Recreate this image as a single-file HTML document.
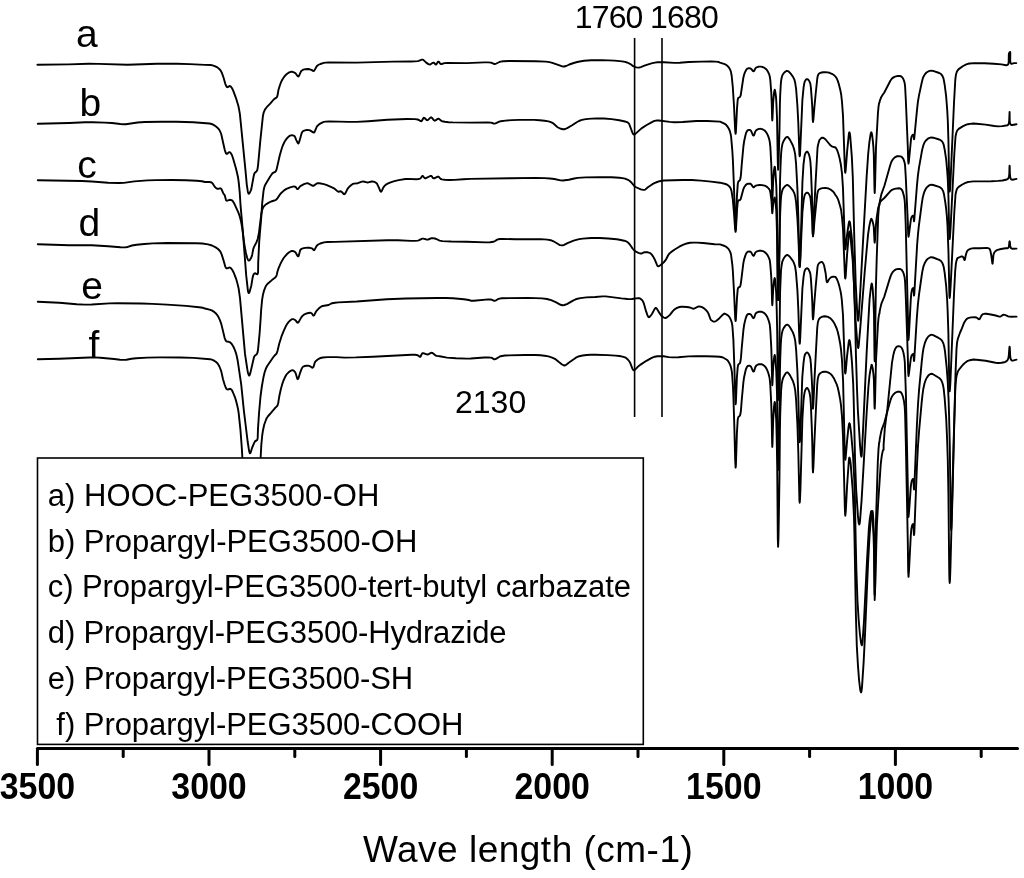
<!DOCTYPE html>
<html><head><meta charset="utf-8"><style>
html,body{margin:0;padding:0;background:#fff;}
svg{display:block;will-change:transform;}
text{font-family:"Liberation Sans",sans-serif;fill:#000;}
</style></head><body>
<svg width="1024" height="878" viewBox="0 0 1024 878">
<rect width="1024" height="878" fill="#fff"/>
<g fill="none" stroke="#000" stroke-width="1.9" stroke-linejoin="round" stroke-linecap="round">
<path d="M37.4 64.8 69.0 64.4 88.6 63.8 98.5 63.9 127.7 64.8 157.0 63.8 177.0 63.8 189.8 64.1 205.0 64.9 210.6 65.0 212.6 65.4 214.7 66.1 217.4 67.4 219.5 69.2 220.7 70.7 221.7 72.4 223.6 77.8 225.2 83.6 226.4 86.3 226.8 86.9 227.3 87.2 228.1 87.0 229.0 86.3 229.8 86.0 230.6 86.4 231.9 88.0 233.1 90.4 235.9 97.8 238.4 106.0 239.2 110.1 239.9 114.1 245.5 170.6 246.8 184.8 247.8 191.4 248.4 193.4 248.8 193.7 249.3 193.4 249.8 192.6 250.9 190.4 251.3 189.1 253.6 176.5 254.2 174.1 254.6 173.1 255.2 172.4 256.4 171.4 257.0 170.6 257.5 169.1 258.1 164.8 260.3 140.9 262.9 116.2 263.6 112.8 264.3 111.0 265.1 109.4 266.7 107.2 270.2 103.7 273.7 99.5 274.4 98.8 276.4 97.7 276.9 97.1 277.3 96.2 277.6 95.1 278.5 89.7 280.0 85.0 281.1 82.0 282.4 79.5 284.4 76.5 285.9 74.8 287.5 73.5 289.2 72.4 290.9 71.8 291.7 71.8 293.4 72.1 295.0 72.8 295.7 73.5 297.7 76.2 298.3 76.5 298.8 76.1 299.3 75.2 300.9 71.6 301.6 70.7 302.4 70.2 303.4 69.7 305.4 69.2 308.3 69.0 311.5 69.9 313.0 70.9 313.7 71.0 314.3 70.6 316.6 66.5 317.3 65.7 318.2 65.0 320.3 64.0 323.9 62.9 325.5 62.6 329.0 62.4 356.6 62.6 393.2 61.6 411.1 61.5 414.8 61.4 417.7 61.1 418.7 60.8 421.8 59.6 422.5 59.6 423.3 59.9 426.2 62.6 428.4 64.1 429.9 64.5 430.6 64.3 432.8 62.8 433.5 62.6 434.2 62.9 435.4 64.3 436.0 64.5 436.6 64.0 437.8 62.1 438.4 61.6 439.0 61.9 440.1 63.5 440.8 64.0 441.6 64.0 444.5 63.1 447.1 62.9 466.5 63.1 484.3 62.4 488.1 62.4 490.9 62.6 492.1 63.0 493.7 63.8 494.6 64.0 495.5 63.9 496.4 63.5 499.4 62.0 500.7 61.6 503.2 61.2 509.5 61.0 535.7 61.2 545.7 61.6 549.5 62.1 552.3 62.8 561.7 66.2 564.1 66.5 566.2 66.0 569.3 64.5 573.7 63.0 577.2 62.0 581.1 61.2 584.2 60.8 591.1 60.3 602.2 60.1 614.6 60.6 622.1 61.4 625.0 61.9 627.1 62.5 629.5 63.6 631.1 64.5 633.2 66.2 634.7 67.0 636.4 67.4 638.2 67.6 639.1 67.5 640.8 67.1 644.4 65.7 651.4 63.4 654.9 62.6 657.3 62.3 663.8 62.3 674.3 62.9 679.8 62.7 688.6 62.0 701.4 61.6 711.5 61.5 715.5 61.6 718.2 61.9 720.0 62.7 724.7 64.1 725.5 64.5 727.0 65.5 728.2 66.7 729.3 68.1 730.2 69.7 731.0 72.0 731.7 76.0 732.8 87.2 734.0 105.7 735.1 129.3 735.3 132.1 735.6 133.8 735.9 132.1 736.0 129.4 737.0 108.7 737.7 99.9 738.1 98.3 738.4 97.8 740.0 97.0 740.7 95.3 743.3 78.0 744.0 75.0 744.9 72.4 746.3 69.7 747.3 68.6 748.1 68.3 748.9 68.1 750.5 68.4 751.2 68.9 753.0 71.1 753.6 71.3 754.1 71.0 755.3 68.5 755.9 67.8 756.7 67.3 758.1 66.8 759.6 66.6 760.6 66.6 762.2 66.9 764.6 67.9 765.9 68.9 767.0 70.2 768.0 71.8 768.8 73.5 769.4 75.0 769.9 77.2 770.4 81.1 771.3 93.2 771.7 102.6 772.1 118.1 772.3 120.5 772.5 118.0 773.2 101.9 774.0 93.1 774.4 90.7 774.7 89.7 775.0 90.5 775.4 92.5 776.0 96.9 776.3 101.5 777.0 117.2 777.8 162.5 778.1 169.7 778.5 164.2 779.0 147.5 779.5 128.9 779.9 104.4 780.2 94.7 780.7 85.7 781.1 80.8 781.7 77.5 782.6 74.8 784.1 72.8 785.6 71.5 786.4 71.0 787.2 70.9 787.9 71.1 788.6 71.5 790.7 73.6 793.3 77.3 794.4 79.7 795.2 82.8 796.1 88.8 797.4 105.7 798.3 123.0 799.3 151.1 799.4 154.5 799.7 156.4 800.0 154.8 800.3 148.6 802.4 99.8 803.6 87.3 804.2 83.7 804.7 81.6 805.5 80.2 806.5 79.2 807.2 79.1 807.7 79.3 808.3 79.8 809.4 81.3 810.0 82.8 810.4 84.0 810.9 87.9 811.8 99.6 812.3 108.1 812.7 119.2 813.0 122.0 813.4 119.3 814.4 107.2 815.8 92.5 817.3 78.3 817.8 75.8 818.4 74.4 819.0 73.7 819.8 73.1 821.6 72.5 823.3 72.2 825.4 72.2 827.5 72.4 829.4 72.8 831.9 73.8 834.2 75.3 835.6 76.7 836.8 78.6 837.8 80.9 838.9 84.4 840.3 90.0 841.2 94.6 842.0 102.0 843.0 115.6 844.8 166.9 845.0 171.3 845.3 172.8 845.7 170.2 847.1 151.7 848.8 134.6 849.1 132.7 849.4 132.2 849.8 133.3 850.2 135.9 851.8 156.4 852.8 177.2 854.3 238.8 855.7 283.4 857.2 312.4 857.8 319.3 858.2 320.8 858.5 319.5 858.8 316.2 860.2 292.9 864.7 211.2 866.7 175.6 868.2 153.7 869.4 142.0 870.6 134.2 871.1 132.5 871.3 132.2 871.7 133.1 872.0 134.4 872.8 140.5 873.4 147.2 873.8 154.5 874.5 190.0 874.7 193.0 875.0 187.2 876.0 147.3 877.9 113.7 878.5 106.9 879.1 103.2 879.3 102.7 879.5 102.7 879.7 101.2 881.2 97.2 882.2 95.5 884.3 92.5 890.5 80.5 892.1 78.4 894.4 76.9 896.8 76.1 898.3 75.9 899.8 76.0 900.7 76.2 901.5 76.6 902.7 77.8 903.8 80.1 904.6 82.7 905.1 86.5 905.8 99.5 907.8 147.2 908.2 161.0 908.5 163.6 908.9 161.1 911.1 138.5 911.7 136.3 912.7 134.9 913.2 134.7 913.6 135.8 913.9 138.9 914.0 139.4 914.2 139.0 916.9 110.8 917.9 101.9 919.0 95.4 921.7 82.7 922.5 79.5 923.1 77.5 924.8 74.4 926.5 72.5 928.7 71.2 931.2 70.6 933.1 70.9 939.2 73.0 940.6 73.8 941.3 74.4 942.4 75.9 943.1 77.4 943.7 79.3 944.7 85.0 946.1 95.9 947.2 109.8 947.8 120.8 948.4 139.4 949.2 183.5 949.4 189.2 949.7 191.6 950.0 190.0 950.5 181.8 954.0 102.7 955.2 81.5 955.5 77.8 956.0 74.6 956.7 72.2 957.3 70.9 958.7 69.1 963.1 66.0 966.3 64.4 968.0 63.8 969.8 63.5 974.4 63.1 984.4 63.2 993.7 63.7 1001.5 64.4 1006.1 65.2 1007.0 65.1 1007.8 64.7 1008.5 63.5 1008.7 61.5 1008.8 54.8 1009.0 53.4 1009.6 52.3 1010.1 51.9 1010.3 52.8 1010.2 60.1 1010.4 62.4 1010.9 63.6 1011.6 63.8 1014.0 63.1 1016.3 63.1"/><path d="M37.8 123.8 69.0 123.0 85.3 122.3 92.5 122.3 104.7 122.6 112.0 123.0 120.3 124.0 123.8 124.3 125.8 124.2 137.6 122.5 144.7 122.0 161.5 121.7 176.7 121.8 193.2 122.3 209.6 123.5 211.6 124.0 212.6 124.4 214.7 125.6 216.6 127.0 218.1 128.4 219.3 129.9 220.2 131.6 221.2 134.0 224.6 149.3 225.2 151.4 225.8 153.0 226.5 153.8 227.2 153.7 228.7 152.4 229.4 152.1 230.1 152.4 230.8 153.1 232.0 155.3 233.1 158.5 235.9 168.2 237.0 172.7 238.0 177.2 238.7 182.1 239.7 192.1 240.5 204.8 242.7 229.6 246.2 275.4 247.9 290.6 248.3 292.4 248.8 293.1 249.2 292.8 249.6 291.8 251.3 285.7 252.7 277.2 253.2 275.4 253.7 274.2 254.5 273.5 255.4 273.3 256.9 274.1 257.5 274.2 257.9 273.4 258.1 271.9 258.2 262.6 259.2 241.9 259.8 234.4 261.2 218.0 262.2 203.1 263.5 191.1 264.1 188.0 264.9 185.5 266.0 183.5 270.2 176.5 271.9 174.0 272.7 173.1 273.5 172.6 275.0 172.0 275.7 171.4 276.2 170.5 276.6 169.4 279.8 155.2 281.6 149.0 282.8 145.5 284.3 142.3 285.8 139.8 287.5 137.7 289.2 136.1 290.1 135.6 290.9 135.4 292.7 135.3 294.2 135.9 294.8 136.5 295.2 137.3 296.3 140.1 297.8 143.0 298.3 143.4 298.7 143.1 299.4 141.2 301.7 133.0 302.2 132.1 302.8 131.3 303.6 130.8 305.8 130.1 307.0 130.0 309.1 130.1 310.0 130.4 313.2 132.4 314.0 132.6 314.5 132.1 316.6 127.1 317.3 126.0 319.2 124.3 320.2 123.6 322.6 122.3 323.9 121.9 325.5 121.6 329.0 121.4 348.7 121.9 356.6 121.9 368.4 121.2 387.4 119.8 407.1 119.0 415.0 119.1 417.7 119.5 418.9 120.0 420.6 121.1 421.3 121.2 421.9 120.8 423.3 118.2 423.8 117.8 424.5 118.0 426.7 120.0 427.4 120.2 428.1 119.9 430.4 117.6 431.1 117.3 431.8 117.7 434.0 120.3 434.7 120.7 435.4 120.5 437.7 118.9 438.4 118.7 439.1 118.9 441.1 120.7 442.1 121.2 444.9 121.8 448.6 122.2 452.9 122.4 470.8 122.6 488.1 122.4 490.9 122.6 493.7 123.5 494.6 123.6 495.5 123.4 499.3 121.6 500.7 121.2 505.5 120.6 512.0 120.1 519.5 119.9 534.1 119.9 539.7 120.2 544.5 120.7 548.5 121.4 550.2 121.9 551.9 122.6 553.1 123.3 557.0 126.8 558.0 127.5 561.0 128.8 563.1 129.2 564.1 129.2 565.2 129.0 567.2 128.1 572.1 125.3 577.1 122.0 579.0 121.0 581.1 120.2 584.4 119.4 588.1 118.9 592.0 118.6 596.1 118.4 604.0 118.5 611.7 119.1 619.3 120.2 625.0 121.5 627.1 122.2 627.9 122.6 628.6 123.2 629.2 124.0 632.4 132.6 633.3 134.2 633.8 134.6 634.4 134.5 635.1 134.1 641.5 128.4 646.7 125.0 651.5 122.3 653.8 121.2 655.8 120.6 656.9 120.4 658.9 120.5 669.7 121.9 674.3 122.3 682.5 122.0 696.4 121.0 700.6 120.9 707.3 121.0 720.0 121.6 723.8 123.3 725.1 124.1 726.3 125.1 727.3 126.3 728.8 128.7 729.8 131.0 730.6 133.9 731.1 136.6 732.3 150.5 732.9 160.2 734.0 188.2 735.1 222.4 735.3 227.3 735.6 229.6 735.9 227.6 736.0 224.0 736.9 196.9 737.7 184.9 737.9 183.2 738.4 181.5 740.0 180.1 740.5 178.1 741.0 174.3 741.7 164.9 743.4 146.5 744.1 141.5 745.4 135.5 746.0 133.2 746.8 131.5 747.3 130.6 748.1 130.1 748.9 129.9 749.7 129.9 750.5 130.3 751.2 131.2 752.7 134.7 753.0 135.2 753.6 135.6 754.1 135.1 754.3 134.6 755.3 131.5 756.3 130.2 757.6 129.4 759.1 128.9 760.6 128.8 762.2 129.2 763.8 130.0 764.6 130.5 765.9 131.9 767.0 133.6 768.0 135.6 768.8 137.9 769.4 140.0 769.9 142.8 770.4 147.7 771.3 164.9 771.7 176.7 772.1 196.5 772.3 200.4 772.5 197.7 773.2 180.0 774.0 170.3 774.4 167.7 774.7 166.6 775.0 167.4 775.4 171.3 776.3 185.7 777.0 212.0 777.8 288.0 778.1 300.0 778.3 296.6 778.6 286.6 779.4 243.5 779.9 193.2 780.1 178.3 780.7 161.9 781.1 154.0 781.6 148.6 782.4 144.0 783.5 141.2 785.2 138.3 786.4 137.1 787.2 136.9 787.9 137.2 788.9 138.3 790.0 139.9 792.9 145.5 794.2 149.6 795.2 154.6 796.1 164.2 797.4 188.9 798.3 216.1 799.3 259.2 799.4 264.4 799.7 267.0 800.0 264.0 800.4 254.5 802.4 182.5 803.5 164.4 804.5 156.7 804.9 154.6 805.8 152.6 806.5 151.8 807.2 151.6 807.7 152.0 808.6 153.6 809.4 156.0 809.9 158.4 810.4 161.7 810.9 169.0 811.8 191.5 812.3 207.9 812.7 231.7 813.0 236.2 813.4 231.0 814.3 208.0 815.6 182.4 817.5 148.3 817.9 145.4 819.1 140.9 819.5 140.0 820.8 138.5 821.5 138.0 822.3 137.7 823.2 137.8 824.1 138.3 825.6 139.5 829.7 144.5 831.0 145.8 832.4 146.7 835.6 147.5 836.0 148.1 837.2 150.3 838.4 153.7 839.6 158.3 840.9 164.8 842.0 173.4 843.0 188.6 844.8 242.3 845.1 248.7 845.3 249.4 845.6 248.3 847.1 234.6 848.5 224.8 849.1 221.6 849.4 221.3 849.7 221.6 850.2 223.8 851.8 237.8 853.0 256.0 854.2 290.3 855.5 319.6 857.2 341.6 857.8 346.7 858.2 348.0 858.5 347.1 858.8 344.9 860.2 328.9 864.6 273.2 866.7 249.3 868.1 234.1 869.3 226.1 870.4 221.0 871.1 219.0 871.3 218.8 871.6 219.0 872.4 220.8 873.4 224.7 873.8 227.6 874.5 241.4 874.7 242.7 875.0 239.9 876.0 224.0 876.7 217.7 878.2 207.6 878.8 206.0 879.3 205.0 879.5 205.0 879.6 203.1 880.0 200.5 881.4 194.1 884.5 185.5 890.2 165.3 891.4 161.8 892.8 159.4 894.8 157.4 896.8 156.3 898.8 156.1 900.7 156.4 901.5 156.8 902.1 157.3 903.2 158.6 904.1 160.9 904.7 162.9 905.1 165.9 905.8 177.8 907.8 221.6 908.2 234.3 908.5 236.7 909.0 234.2 910.8 220.1 911.4 217.5 912.2 216.2 912.7 215.7 913.2 215.6 913.6 216.9 913.9 220.8 914.0 221.3 914.2 220.8 916.9 186.2 917.9 175.6 919.0 167.7 921.7 152.3 922.5 148.4 923.4 145.2 924.5 142.5 925.9 140.5 927.9 138.7 929.6 137.9 930.4 137.6 931.2 137.5 933.1 137.7 939.2 139.5 940.6 140.2 941.3 140.7 942.4 141.9 943.1 143.2 943.7 144.8 944.8 150.3 946.2 159.7 947.2 170.9 947.8 179.6 948.4 195.2 949.2 232.2 949.4 236.9 949.7 239.0 950.0 236.8 950.6 227.6 954.3 154.0 955.5 136.7 956.2 133.2 957.0 131.0 957.5 130.1 958.7 128.9 963.1 126.1 966.3 124.7 968.0 124.2 969.8 123.9 973.4 123.5 976.4 123.7 985.6 124.6 994.3 126.0 998.3 126.4 1002.3 126.1 1007.6 125.2 1008.3 124.6 1008.9 123.0 1009.2 120.5 1009.6 111.9 1009.7 120.6 1010.0 123.1 1010.7 124.6 1011.4 125.0 1012.3 125.0 1016.5 124.3"/><path d="M37.8 180.2 82.2 181.0 91.9 181.5 108.1 182.7 119.0 183.0 123.8 182.9 134.3 181.4 147.5 180.4 156.0 180.1 172.2 180.0 186.0 180.3 196.8 180.8 201.9 181.3 205.0 182.0 209.5 182.0 210.7 182.2 211.6 182.5 212.3 183.1 212.9 183.8 214.4 186.4 216.1 188.2 217.4 188.8 218.2 188.8 219.9 188.3 220.7 188.4 221.2 188.9 221.7 189.6 223.2 193.2 224.8 195.4 225.8 199.3 226.1 200.1 226.5 200.6 227.2 200.7 229.8 199.8 231.5 200.1 232.3 200.6 233.0 201.4 234.4 203.8 238.2 212.1 239.2 214.8 240.2 218.1 241.1 221.8 242.2 227.9 244.2 243.3 245.8 252.5 247.1 257.6 247.9 259.6 248.3 260.3 248.8 260.6 249.4 260.4 250.1 259.6 251.3 257.6 252.2 254.7 253.2 249.3 253.7 247.7 254.8 245.4 256.5 242.2 257.7 239.0 259.0 232.6 261.3 213.8 262.3 209.6 263.0 207.9 263.9 206.3 265.4 204.8 268.8 202.6 271.1 201.5 274.4 200.5 276.0 199.8 276.9 199.0 277.7 197.9 280.1 194.3 281.0 193.2 284.1 190.4 286.4 188.9 290.2 187.3 292.8 186.6 294.0 186.5 295.0 186.6 295.8 187.1 296.9 188.8 297.5 189.1 298.1 188.8 300.0 186.5 300.8 185.8 304.0 184.1 306.3 183.4 307.4 183.3 308.4 183.5 311.4 185.2 312.3 185.7 313.2 185.8 314.1 185.5 316.4 183.7 317.3 183.3 319.4 183.2 323.9 184.1 326.9 185.1 333.1 187.9 334.6 188.8 337.6 191.4 338.3 191.7 340.8 191.3 341.5 191.7 343.7 194.0 344.4 194.2 345.0 193.8 345.6 192.9 347.4 189.1 348.1 188.1 349.6 186.4 351.3 185.0 353.0 183.9 353.9 183.6 357.8 183.2 361.9 181.6 363.5 181.5 366.8 182.4 367.6 182.5 368.4 182.4 371.7 181.5 372.5 181.5 374.3 181.9 375.1 182.2 376.6 183.2 377.1 183.8 379.0 187.8 380.2 190.8 380.6 191.4 381.0 191.7 381.5 191.4 381.9 190.7 383.4 187.3 384.6 185.8 386.0 184.6 387.6 183.7 390.6 182.3 394.4 181.1 398.7 180.1 405.4 179.0 407.8 178.9 416.1 179.2 418.4 179.0 420.1 178.6 420.9 177.9 422.0 176.2 422.5 175.9 423.1 176.2 424.3 177.8 425.0 178.3 425.9 178.2 430.2 176.0 431.1 175.9 431.8 176.3 432.8 177.9 433.5 178.3 434.2 178.3 437.7 176.6 438.4 176.6 439.0 177.0 440.1 178.4 440.8 179.0 441.9 179.4 444.5 179.8 449.4 180.0 454.6 179.9 463.4 179.2 470.3 178.9 511.1 178.2 535.9 177.9 544.6 178.1 549.9 178.5 554.4 179.0 560.5 180.4 562.9 180.5 568.8 179.7 574.3 178.5 577.6 177.9 585.5 177.4 599.6 177.1 611.7 177.3 619.2 177.7 622.4 178.1 625.0 178.6 628.0 179.8 629.5 180.8 631.1 182.2 634.0 185.7 635.5 187.0 640.8 189.3 643.3 189.9 644.4 189.9 645.2 189.6 647.9 187.2 652.4 184.2 654.9 182.9 657.2 182.0 659.5 181.2 663.8 180.5 682.9 180.0 691.8 180.0 701.0 180.6 711.1 181.6 720.0 182.7 725.5 184.0 727.0 184.6 728.8 185.9 729.8 187.0 730.6 188.3 731.5 190.9 732.8 199.3 734.0 213.1 735.1 228.6 735.4 231.2 735.6 231.9 735.9 230.4 736.0 228.1 737.0 210.0 737.7 202.3 738.1 201.0 738.4 200.5 740.0 200.0 740.7 199.1 743.2 189.7 744.2 187.2 745.4 185.5 746.3 184.5 747.3 183.9 748.1 183.7 750.5 183.8 751.2 184.4 753.0 187.0 753.6 187.3 754.1 187.1 755.3 185.9 756.7 185.4 759.6 185.0 762.2 185.1 764.6 185.7 765.9 186.2 767.0 186.9 768.8 188.6 769.6 189.8 769.9 190.5 770.3 192.2 771.3 199.0 771.7 203.9 772.1 212.1 772.3 213.3 772.5 212.0 773.2 203.8 774.0 199.2 774.4 198.0 774.7 197.5 775.2 199.7 776.2 209.5 776.7 222.8 777.2 243.3 777.8 294.2 778.1 300.0 778.5 293.6 779.0 274.2 779.5 252.5 779.9 223.8 780.2 212.7 780.7 202.2 781.1 196.5 781.7 192.7 782.6 189.6 783.8 187.6 785.6 185.7 786.4 185.2 787.2 185.0 787.9 185.2 788.6 185.6 790.0 186.9 792.9 190.4 794.4 193.4 795.2 196.4 796.1 202.2 797.4 218.3 798.3 234.9 799.3 261.9 799.4 265.2 799.7 267.0 800.0 265.5 800.3 259.5 802.4 212.5 803.6 200.5 804.2 197.1 804.7 195.0 805.5 193.6 806.5 192.7 807.2 192.6 807.7 192.8 808.3 193.3 809.4 194.8 810.0 196.3 810.4 197.6 810.9 201.6 811.8 213.4 812.3 222.1 812.7 233.4 813.0 236.2 813.4 233.6 814.4 221.9 815.8 207.8 817.3 194.0 817.8 191.6 818.4 190.2 819.0 189.5 820.6 188.7 822.4 188.1 825.4 187.9 826.9 188.1 828.5 188.5 831.1 189.9 832.7 191.2 834.2 192.9 835.6 195.2 836.8 196.8 837.8 198.8 838.9 201.9 840.3 206.7 841.1 210.0 842.0 217.1 843.0 228.9 844.8 273.3 845.0 277.3 845.3 278.6 845.6 277.1 845.8 274.8 847.1 254.1 848.8 234.4 849.1 232.2 849.4 231.6 849.9 232.9 850.5 237.0 852.7 260.5 854.0 285.3 854.7 303.7 856.0 357.3 857.1 391.4 857.9 410.9 860.1 446.1 860.9 454.9 861.4 456.7 861.7 455.5 861.9 452.5 863.0 431.1 866.6 353.6 869.0 309.2 869.6 299.1 870.6 290.0 871.4 284.4 871.8 283.5 872.0 284.0 872.7 289.2 873.5 301.1 874.0 315.0 874.5 357.3 874.7 361.2 875.0 350.0 875.8 291.1 876.7 258.7 878.2 216.0 879.1 204.8 879.3 204.0 879.5 204.0 879.6 203.4 879.8 202.8 881.2 200.8 884.3 198.0 890.2 191.3 892.1 189.8 894.4 188.9 898.8 188.2 900.2 188.5 901.1 189.0 901.8 189.8 902.7 191.5 904.0 196.2 904.6 199.9 904.9 203.5 905.7 223.9 907.8 311.6 908.2 335.6 908.5 340.0 908.9 335.5 910.8 299.1 911.3 293.4 911.9 290.1 912.4 288.8 912.7 288.3 913.2 288.0 913.6 289.8 914.0 295.6 914.3 294.0 917.1 245.2 917.9 235.1 918.7 227.2 921.7 204.2 922.6 198.3 923.4 194.9 924.3 192.0 925.3 189.7 926.2 188.2 927.2 187.0 928.7 185.7 930.4 184.9 931.2 184.7 933.1 185.0 938.4 186.7 940.6 187.7 941.9 188.9 943.1 191.1 944.0 194.3 945.3 202.3 946.1 208.4 946.9 216.6 947.5 225.6 948.5 253.2 949.3 291.4 949.4 295.8 949.7 298.0 950.0 295.7 950.6 286.5 954.3 212.2 955.5 194.8 956.2 191.2 957.0 188.9 957.5 188.1 958.7 186.9 962.3 184.5 965.5 182.9 967.1 182.3 968.9 181.9 973.4 181.4 991.3 181.2 998.1 180.9 1002.5 180.5 1006.8 179.5 1007.6 179.1 1008.3 178.4 1008.9 176.7 1009.3 174.1 1009.5 166.4 1009.6 165.6 1009.7 166.5 1009.9 175.0 1010.3 177.7 1011.1 179.3 1011.8 179.6 1012.6 179.7 1016.5 178.9"/><path d="M37.8 244.2 69.0 245.2 85.4 245.2 91.9 245.3 108.1 246.2 120.4 247.3 123.2 247.4 125.7 247.3 127.1 247.1 132.0 245.5 136.6 244.7 144.3 244.0 152.8 243.4 166.8 243.0 196.4 243.3 202.4 243.5 208.1 244.4 212.0 245.5 215.7 247.4 218.0 249.0 219.0 250.0 219.9 251.0 220.7 252.2 221.8 254.9 223.7 260.9 225.2 266.3 225.8 267.6 226.5 268.4 227.3 268.4 229.0 267.6 229.8 267.5 230.5 267.8 231.1 268.4 232.3 270.0 233.5 272.2 234.6 274.8 236.1 278.8 237.3 282.9 238.7 288.8 240.0 298.1 245.0 353.9 247.3 369.2 247.9 372.5 248.6 374.7 249.2 375.6 249.6 375.2 250.5 372.4 253.9 357.5 254.5 356.2 255.1 355.4 256.5 354.4 257.1 353.6 257.6 352.1 258.0 350.1 259.6 333.3 260.6 319.1 261.1 310.5 262.1 299.9 262.8 295.6 264.1 290.3 265.4 287.1 266.1 285.7 266.8 284.7 268.5 283.0 271.9 280.1 274.6 278.1 276.0 276.6 276.8 274.8 277.4 271.8 278.6 268.1 281.0 262.6 283.2 258.7 285.0 256.3 286.8 254.3 288.8 252.5 290.8 251.3 291.7 251.0 292.6 251.0 293.4 251.1 295.0 251.9 295.6 252.5 297.3 255.4 297.8 256.1 298.3 256.3 298.7 255.8 300.1 250.4 300.8 249.4 301.7 248.8 302.7 248.4 305.1 247.9 307.4 247.7 309.2 247.8 311.0 248.1 312.4 248.6 313.5 249.9 314.0 250.2 314.5 249.9 316.6 246.0 317.3 245.2 318.2 244.5 320.3 243.5 323.9 242.4 327.2 242.0 335.0 241.9 387.4 240.2 397.8 240.2 411.1 240.9 414.8 240.9 417.7 240.6 418.7 240.3 421.7 238.8 422.5 238.6 423.3 238.6 426.6 239.5 427.4 239.6 428.2 239.5 431.5 238.2 432.3 238.1 434.9 238.5 437.2 239.3 438.6 240.2 439.6 240.6 442.4 241.1 451.2 241.5 466.5 241.8 486.0 242.4 490.1 242.3 493.3 241.8 495.1 241.0 497.2 239.6 498.2 239.3 500.4 239.0 502.9 238.9 515.3 239.3 540.8 239.1 547.4 239.6 550.7 240.2 553.5 241.3 558.5 244.3 560.1 245.1 561.7 245.4 562.9 245.3 564.1 244.9 567.5 243.1 573.6 240.7 577.2 239.6 579.3 239.1 582.8 238.6 591.0 238.0 599.8 238.0 608.1 238.5 616.8 239.3 620.8 240.0 624.2 240.7 626.8 241.7 627.8 242.3 629.1 243.7 630.9 246.0 632.5 248.5 633.8 250.0 636.4 251.9 639.1 253.1 640.9 253.5 641.7 253.5 643.4 252.6 644.4 252.2 645.2 252.1 647.9 252.3 649.6 252.8 650.3 253.2 651.6 254.4 653.2 256.6 654.6 259.2 657.1 265.1 657.5 265.9 658.1 266.3 658.8 266.3 660.4 265.3 663.8 262.3 666.1 259.3 668.3 255.0 669.0 254.0 671.0 252.1 674.7 249.5 679.3 246.7 682.9 244.9 684.8 244.1 686.6 243.5 690.0 242.8 693.4 242.6 697.1 242.6 703.0 243.0 714.7 244.3 720.0 244.4 724.7 246.0 726.3 246.9 727.6 248.0 728.8 249.4 730.0 251.5 730.6 253.1 731.1 255.1 732.4 265.4 732.9 271.8 734.0 291.7 735.1 315.7 735.3 319.3 735.6 321.1 735.9 319.5 736.0 317.0 737.0 297.7 737.7 289.6 738.1 288.1 738.4 287.6 740.0 286.6 740.5 285.2 741.0 282.3 743.3 263.5 744.0 259.9 745.4 255.4 746.0 253.9 746.8 252.6 747.3 252.0 748.1 251.6 748.9 251.5 750.5 251.8 751.2 252.4 752.7 255.1 753.0 255.5 753.6 255.8 754.1 255.4 755.3 252.7 755.9 252.0 757.1 251.3 758.6 250.9 759.6 250.7 761.4 250.8 763.0 251.2 764.6 252.0 766.5 253.7 767.5 255.1 768.4 256.8 769.2 258.6 769.8 260.6 770.3 264.6 771.3 277.6 771.7 287.1 772.1 302.8 772.3 305.2 772.5 303.0 773.2 288.9 774.0 281.1 774.4 279.0 774.7 278.1 775.0 279.3 775.3 281.5 776.2 293.0 776.7 308.9 777.2 332.5 777.8 393.1 778.1 400.0 778.3 397.0 778.6 388.1 779.4 349.8 779.9 305.1 780.1 291.8 781.0 270.4 781.6 265.4 782.4 261.3 783.5 258.8 785.2 256.3 786.4 255.2 787.2 255.0 787.9 255.2 788.6 255.6 790.0 257.0 792.9 260.9 794.0 263.2 795.1 266.5 796.0 272.6 797.4 290.1 798.3 309.0 799.3 338.2 799.4 341.8 799.7 343.7 800.0 342.1 800.3 336.1 802.4 288.5 803.5 277.3 804.3 272.1 804.9 270.2 805.5 269.3 806.5 268.4 807.2 268.3 807.7 268.6 808.3 269.1 809.1 270.4 809.8 272.0 810.4 274.1 810.9 278.8 811.8 292.6 812.3 302.8 812.7 316.4 813.0 319.3 813.4 316.6 814.4 302.1 815.6 287.4 817.5 267.1 817.9 265.1 818.7 263.6 819.8 262.6 821.1 262.0 821.6 261.9 822.2 262.2 823.3 263.5 824.1 265.5 825.6 273.0 826.4 279.9 826.7 281.5 827.1 282.2 827.5 281.9 828.9 279.5 830.2 278.0 830.9 277.4 831.7 277.0 833.5 276.6 835.6 277.0 836.8 278.9 838.1 282.0 839.2 285.6 840.5 291.1 841.2 295.0 841.8 299.8 843.0 315.1 844.8 367.6 845.0 372.0 845.3 373.5 845.5 372.9 845.8 370.6 847.0 356.7 848.7 342.3 849.0 340.9 849.4 340.0 849.8 341.0 850.1 342.7 850.8 348.7 852.0 362.9 853.2 384.0 853.7 400.4 855.1 461.5 856.1 488.9 857.9 515.4 858.6 522.2 858.9 523.7 859.3 524.5 859.7 523.4 860.1 519.8 861.6 500.1 866.7 412.0 868.5 385.6 869.5 375.6 870.4 370.1 871.5 364.9 871.7 364.7 871.9 365.0 872.7 368.4 873.5 374.6 873.9 380.2 874.5 406.7 874.7 408.6 875.0 402.5 876.0 360.5 877.9 325.2 878.5 318.1 879.1 314.2 879.3 313.7 879.5 313.7 879.6 312.0 880.0 309.6 881.2 304.4 881.9 302.3 884.3 296.6 889.6 279.1 890.8 275.6 891.8 273.5 892.5 272.4 893.6 271.1 894.4 270.4 896.0 269.4 896.8 269.1 898.3 268.9 899.8 269.0 900.7 269.2 901.5 269.7 902.1 270.4 902.9 271.7 903.8 274.0 904.6 277.2 905.1 281.8 905.8 297.1 907.8 356.0 908.2 372.5 908.5 376.0 909.0 373.4 910.8 358.7 911.4 356.0 912.2 354.6 912.7 354.1 913.2 354.0 913.6 355.7 913.9 360.4 914.0 361.1 914.2 360.4 916.8 318.2 917.9 304.5 919.0 294.7 921.7 275.5 922.5 270.7 923.4 266.7 924.8 262.9 926.2 260.5 927.9 258.7 929.6 257.7 930.4 257.4 931.2 257.2 933.1 257.5 939.2 259.9 940.6 260.7 941.3 261.4 942.4 263.1 943.1 264.8 943.7 266.9 944.7 273.2 946.1 285.3 947.2 300.7 947.7 312.5 948.4 333.5 949.2 382.4 949.4 388.8 949.7 391.4 950.0 388.7 950.5 380.2 954.0 293.8 955.2 270.8 955.9 263.5 956.4 261.1 957.2 258.6 957.5 258.1 958.1 257.8 961.1 256.5 961.9 256.4 962.7 256.7 963.3 257.2 964.3 259.7 964.6 260.1 965.0 259.1 965.8 255.0 966.9 251.5 967.9 250.2 969.3 249.3 970.9 248.6 973.8 248.1 980.0 248.2 986.7 247.9 988.1 248.1 989.2 248.6 989.8 249.2 990.4 250.8 991.3 255.4 992.1 261.7 992.3 263.2 992.5 263.7 992.7 263.1 993.4 255.3 993.8 253.7 994.6 252.1 995.8 250.9 997.7 249.8 1001.0 249.0 1005.6 248.2 1007.6 248.2 1008.3 247.9 1008.7 247.1 1009.0 245.8 1009.4 241.7 1009.6 241.3 1009.8 241.7 1010.2 245.9 1010.6 247.3 1011.1 248.2 1011.8 248.6 1012.6 248.7 1016.5 248.6"/><path d="M37.8 301.7 59.3 302.7 76.7 304.2 84.7 304.6 91.8 304.5 109.4 303.4 117.0 303.2 141.3 303.5 152.3 303.9 167.0 304.6 186.0 305.9 199.1 307.2 202.9 307.8 205.0 308.5 209.5 309.6 211.8 310.4 213.7 311.6 215.4 313.0 217.0 314.7 218.5 317.1 219.8 319.8 221.4 324.4 224.6 337.8 225.6 340.3 226.2 341.2 227.0 341.6 228.8 341.8 229.7 342.1 231.0 343.2 232.2 344.7 233.3 346.5 234.6 349.3 235.8 352.6 236.8 356.2 237.8 361.3 241.2 384.4 243.9 410.9 247.7 442.0 249.1 450.8 249.7 453.0 250.0 453.3 250.4 452.9 250.8 452.0 252.2 447.5 254.4 442.4 255.3 441.0 256.6 440.5 257.1 440.1 257.5 439.0 257.7 437.4 258.0 428.6 259.1 412.3 260.5 396.5 261.9 386.0 263.4 377.6 264.5 372.8 265.9 368.6 267.2 366.0 273.4 357.0 274.8 355.3 276.0 354.3 276.5 353.6 277.5 351.0 279.2 343.8 281.4 336.7 283.5 331.4 286.1 325.7 287.0 324.1 288.7 321.9 290.2 320.4 291.7 319.3 292.4 319.1 293.3 319.1 294.2 319.5 295.1 320.0 295.8 320.7 297.1 322.4 297.7 322.7 298.3 322.4 298.9 321.6 301.3 317.4 302.5 315.9 303.9 314.7 307.4 313.2 310.0 312.8 311.0 312.9 311.8 313.5 313.0 315.3 313.6 315.6 314.1 315.3 314.5 314.7 315.8 312.0 316.3 311.2 318.7 308.6 320.6 307.0 321.6 306.4 322.7 306.0 328.6 305.0 331.3 303.5 332.2 303.2 334.9 302.7 338.5 302.4 356.6 301.5 387.0 299.3 405.9 298.5 436.9 298.0 446.2 298.0 452.9 298.3 463.8 299.3 468.9 300.0 471.4 300.8 473.8 300.8 488.3 299.4 490.9 299.5 492.0 299.8 493.7 300.7 494.6 300.8 496.1 300.3 498.5 298.9 499.4 298.6 501.8 298.2 527.7 298.0 535.3 298.1 542.0 298.4 547.0 299.0 551.1 300.1 555.7 302.1 560.6 304.8 562.6 305.2 564.3 305.0 566.9 304.1 573.0 300.6 575.3 299.5 577.6 298.7 580.4 298.1 586.4 297.4 595.2 297.0 602.5 296.4 605.7 296.4 621.4 298.4 627.6 299.0 630.3 299.1 632.0 299.0 637.9 298.1 639.1 298.2 640.0 298.5 640.7 298.9 642.0 300.0 642.6 300.8 643.3 302.1 644.0 303.9 646.1 311.4 647.4 315.1 648.3 316.9 648.8 317.2 649.4 317.1 650.7 315.7 652.1 313.8 654.4 309.4 655.1 308.3 655.8 307.9 656.3 308.1 656.9 308.8 658.4 311.4 661.3 315.7 663.7 317.5 664.6 317.9 665.5 318.0 667.0 317.4 669.9 314.9 672.8 311.2 674.3 309.6 676.7 308.0 678.5 307.3 681.1 306.8 682.9 306.8 686.8 307.0 690.1 307.5 692.7 308.6 693.6 308.7 694.4 308.5 698.0 306.6 698.9 306.4 700.7 306.7 702.5 307.4 704.1 308.4 705.6 309.7 707.1 311.3 708.4 313.4 710.5 319.2 711.2 320.2 712.9 321.3 713.8 321.6 714.7 321.6 716.1 321.0 719.2 318.4 722.8 314.7 723.8 313.9 724.5 313.5 727.2 314.9 728.4 315.8 729.9 317.8 731.1 320.4 731.9 323.1 732.4 326.1 733.4 340.1 734.4 367.7 735.3 398.8 735.6 404.3 735.9 402.4 736.0 399.7 736.9 377.4 737.7 367.4 738.1 365.1 738.4 364.5 740.0 363.1 740.5 361.1 741.0 357.4 741.7 348.3 743.4 330.2 744.2 324.5 745.6 318.6 746.8 315.4 747.3 314.6 748.1 314.1 748.9 313.9 749.7 314.0 750.5 314.3 751.2 314.9 752.7 317.5 753.0 317.9 753.6 318.2 754.1 317.7 754.3 317.3 755.3 314.2 756.3 312.9 757.1 312.4 758.6 311.8 759.6 311.6 761.4 311.7 763.0 312.3 764.6 313.4 765.3 314.1 766.5 315.6 767.5 317.5 768.4 319.8 769.2 322.3 769.8 325.0 770.3 330.3 771.3 348.0 771.7 360.8 772.1 381.2 772.3 385.2 772.5 382.7 773.2 366.9 774.0 358.3 774.4 355.9 774.7 354.9 775.0 356.1 775.4 358.9 776.3 371.5 777.0 393.8 777.8 459.7 778.1 470.0 778.5 462.3 779.0 437.4 779.5 409.9 779.9 373.6 780.2 359.6 780.7 346.0 781.1 339.1 781.7 334.3 782.6 330.4 783.8 327.9 785.6 325.4 786.4 324.8 787.2 324.6 787.9 324.9 788.9 325.8 790.0 327.3 792.9 332.4 794.2 336.1 795.2 340.6 796.1 349.3 797.4 371.4 798.3 396.2 799.3 435.1 799.4 439.8 799.7 442.2 800.0 440.3 800.4 432.5 802.3 377.0 803.5 363.2 804.3 357.0 804.9 354.8 805.5 353.7 806.5 352.7 807.2 352.5 807.7 352.8 808.3 353.4 809.1 354.8 809.8 356.6 810.4 358.9 810.9 364.1 811.8 379.3 812.3 390.5 812.7 405.5 813.0 408.7 813.4 403.8 814.4 380.9 815.8 354.1 817.2 328.2 817.8 322.8 818.4 320.5 819.0 319.1 819.8 318.2 820.6 317.5 822.4 316.6 824.3 316.3 826.4 316.5 828.0 316.9 830.3 318.3 831.5 319.4 832.7 320.8 834.6 323.8 836.7 328.5 837.8 332.0 838.7 336.0 840.2 343.8 841.0 349.5 842.0 360.5 843.1 381.2 844.7 450.1 845.1 459.0 845.3 459.9 845.6 458.5 847.1 440.6 848.3 428.9 849.0 424.2 849.4 423.2 849.8 423.8 850.0 424.5 851.1 432.9 853.0 454.6 854.3 480.0 854.9 497.4 855.7 541.1 856.4 570.8 857.5 601.3 858.7 620.4 859.9 634.0 861.0 642.6 861.4 644.3 861.9 645.3 862.2 644.4 862.6 641.4 863.9 622.8 867.0 560.5 868.8 529.4 869.7 519.6 871.0 511.7 871.3 511.0 871.6 511.5 872.1 515.3 872.8 523.0 873.5 533.9 874.0 551.5 874.5 591.3 874.6 594.6 874.7 595.0 874.9 593.8 875.3 584.3 876.4 541.7 876.9 524.9 878.2 502.1 880.7 464.7 881.3 459.3 881.9 455.1 882.8 450.8 883.1 450.0 883.5 450.0 883.6 449.4 883.6 445.1 884.8 428.5 887.3 409.5 892.0 362.7 893.4 354.7 894.3 351.2 895.2 348.9 895.9 347.8 896.8 346.6 897.8 346.3 898.8 346.3 899.8 346.4 900.7 346.8 901.5 347.6 902.4 349.3 903.4 352.5 904.3 357.3 904.8 361.8 905.9 394.1 907.8 485.1 908.2 512.0 908.5 517.0 909.0 512.5 910.8 486.8 911.4 482.4 911.7 481.1 912.2 480.0 912.7 479.2 913.2 479.0 913.5 481.0 913.9 489.2 914.0 489.6 914.1 489.2 914.3 487.8 916.9 425.2 918.0 404.2 919.0 390.6 921.8 361.1 922.7 353.3 923.5 348.2 925.0 342.5 926.5 339.1 927.6 337.5 928.7 336.2 930.4 335.0 931.2 334.8 932.2 334.9 933.2 335.2 939.0 338.2 940.7 339.3 941.8 340.4 942.5 341.5 943.6 344.1 944.4 347.5 945.0 351.3 946.7 367.7 947.7 381.2 948.6 399.9 949.1 416.8 949.8 445.8 950.7 517.0 950.9 526.4 951.2 530.0 951.5 526.2 952.1 509.3 955.5 374.1 956.5 348.9 957.0 343.5 957.3 341.2 957.9 338.6 959.9 333.0 961.9 328.4 964.0 322.9 965.0 321.2 966.0 319.7 967.3 318.6 968.1 318.2 971.0 317.4 974.7 317.2 976.4 317.5 977.2 318.0 978.5 319.1 979.2 319.3 979.8 318.9 981.3 315.9 982.0 314.9 982.8 314.2 984.4 313.8 986.3 313.8 990.8 314.5 995.7 315.5 999.3 316.6 1000.1 316.6 1000.9 316.3 1003.0 314.9 1003.8 314.7 1005.5 315.1 1008.2 316.3 1009.2 316.6 1011.5 316.8 1016.5 316.6"/><path d="M37.8 359.3 59.3 358.8 89.3 357.5 94.5 357.4 100.4 357.7 114.1 359.0 120.1 359.7 123.8 359.9 126.4 359.7 131.6 358.8 136.1 358.3 147.2 357.6 159.5 357.4 180.4 357.5 193.4 357.9 210.0 359.2 211.0 359.4 213.1 360.1 215.8 361.8 217.4 363.3 218.1 364.3 219.4 366.5 220.4 369.0 221.4 371.9 223.0 379.2 224.5 384.2 225.7 387.5 226.3 388.7 227.1 389.4 227.9 389.5 229.8 388.8 230.6 388.9 231.3 389.4 231.9 390.2 233.0 392.5 234.8 396.8 236.1 400.9 237.2 405.3 238.1 409.4 238.7 413.4 240.4 429.3 241.8 447.7 243.9 484.5 246.3 507.7 247.2 513.1 248.4 517.4 250.0 520.0 250.9 520.6 251.9 520.9 253.0 521.0 254.1 520.9 255.1 520.6 256.0 520.0 257.6 516.5 258.5 510.5 259.0 502.9 259.5 480.0 261.3 445.0 262.2 435.5 262.9 430.8 264.2 424.8 266.1 419.5 266.8 418.0 268.2 416.0 271.2 412.7 274.8 408.3 276.8 406.4 277.4 405.6 278.2 403.2 279.2 396.8 280.7 389.7 282.0 384.9 283.3 381.0 284.7 377.8 286.2 375.0 287.1 373.8 288.8 372.1 290.7 370.8 291.6 370.4 292.4 370.3 293.2 370.4 293.9 370.8 295.1 372.1 295.6 373.1 297.3 378.8 297.7 379.2 298.1 378.8 298.6 377.8 299.9 373.4 301.5 369.1 302.4 367.4 303.0 366.8 303.8 366.3 304.9 366.0 306.0 365.8 308.2 365.8 309.2 365.9 310.2 366.3 311.9 367.6 312.7 367.7 313.2 367.2 313.7 366.3 314.8 362.5 315.4 361.5 317.7 359.5 319.6 358.4 320.7 358.0 322.7 357.5 327.6 357.1 336.6 357.1 344.4 357.6 355.9 357.4 372.9 356.7 411.5 354.7 415.1 354.8 417.7 355.2 418.7 355.9 419.4 356.6 420.1 356.9 420.6 356.5 421.9 353.7 422.5 353.2 423.2 353.1 424.0 353.3 426.6 354.4 427.4 354.5 428.3 354.3 430.9 352.9 431.8 352.8 432.5 353.0 433.2 353.5 435.3 355.3 436.0 355.7 436.9 355.9 439.6 356.2 447.0 357.6 456.0 358.3 466.5 358.6 470.7 358.5 484.3 357.5 488.1 357.4 490.9 357.6 491.9 357.9 493.9 359.2 494.6 359.3 495.5 359.1 499.5 356.7 500.7 356.2 504.9 355.5 524.9 355.0 535.6 355.0 540.5 355.3 544.6 355.7 548.4 356.4 551.5 357.3 554.4 358.6 555.8 359.4 561.7 364.2 563.5 365.3 564.4 365.5 565.3 365.3 566.2 364.7 569.4 362.3 575.9 357.7 577.5 356.9 579.3 356.2 582.7 355.5 586.6 355.0 590.9 354.8 595.4 354.8 607.8 355.1 615.6 355.6 619.3 356.0 622.5 356.6 625.0 357.4 626.0 357.9 627.5 359.2 629.4 361.5 630.2 362.9 632.3 368.4 633.0 369.7 633.8 370.3 634.5 370.2 635.1 369.6 637.3 367.3 640.6 364.6 646.4 360.8 650.8 358.4 652.9 357.4 654.9 356.7 657.3 356.2 659.6 356.1 663.6 356.3 668.7 357.1 672.5 357.4 678.4 357.2 688.3 356.4 696.2 356.1 706.1 356.2 715.0 356.5 719.5 356.8 722.4 357.3 723.0 357.5 726.8 359.7 727.5 360.3 728.6 361.9 729.9 364.2 730.7 366.4 731.4 369.2 732.0 372.8 733.0 387.0 733.4 396.8 734.3 425.4 735.2 460.2 735.6 467.6 735.9 465.5 736.0 461.9 736.9 433.2 737.7 420.0 738.0 418.2 738.4 417.0 740.0 415.6 740.5 413.6 741.0 409.8 741.7 400.5 743.4 382.2 744.1 377.2 745.4 371.3 746.0 369.0 746.8 367.3 747.3 366.4 748.1 365.9 748.9 365.7 749.7 365.8 750.5 366.1 751.2 367.0 752.7 370.6 753.0 371.2 753.6 371.6 754.1 371.1 754.3 370.5 755.3 367.1 756.3 365.6 757.1 365.0 758.6 364.3 759.6 364.1 761.4 364.2 763.0 364.9 764.2 365.7 765.3 366.9 766.5 368.6 767.5 370.8 768.6 374.0 769.3 376.7 769.8 379.6 770.3 385.2 771.3 405.0 771.7 419.4 772.1 442.4 772.3 446.9 772.5 443.3 773.2 419.8 773.9 408.4 774.4 403.4 774.7 402.0 775.0 402.9 775.3 405.7 776.2 419.3 776.7 438.1 777.2 466.6 777.8 538.5 778.1 546.7 778.5 537.5 779.0 507.6 779.5 474.7 779.9 431.1 780.2 414.4 781.1 390.7 781.7 384.0 782.6 379.4 783.8 376.4 785.6 373.4 786.4 372.6 787.2 372.4 787.9 372.7 788.9 373.8 790.0 375.4 792.9 381.0 794.2 385.1 795.2 390.1 796.1 399.7 797.4 424.5 798.3 451.7 799.3 494.9 799.4 500.1 799.7 502.7 800.0 499.7 800.4 490.2 802.4 418.7 803.5 400.7 804.0 396.1 804.6 392.4 805.2 390.2 806.1 388.6 806.5 388.2 807.2 388.0 807.7 388.4 808.6 390.0 809.4 392.3 809.9 394.8 810.4 398.1 810.9 405.4 811.8 427.8 812.3 444.2 812.7 467.9 813.0 472.4 813.4 467.0 814.4 442.1 815.8 412.0 817.2 384.6 817.8 378.7 818.4 376.2 819.0 374.7 819.8 373.7 820.6 373.0 822.4 372.0 824.3 371.7 826.4 371.8 828.0 372.3 828.9 372.8 830.3 373.7 831.5 374.9 832.7 376.4 834.2 378.8 836.7 384.3 837.8 387.8 838.7 391.8 840.2 399.6 841.0 405.3 842.0 416.3 843.0 435.9 844.8 506.8 845.1 514.1 845.3 515.7 845.8 511.2 847.1 485.6 848.8 461.0 849.1 458.2 849.4 457.5 849.7 458.1 850.2 460.5 850.7 464.4 852.7 489.9 854.0 517.6 854.5 537.6 855.9 615.0 856.8 645.8 858.0 666.1 859.1 680.5 860.2 689.5 860.6 691.3 861.1 692.4 861.5 691.1 862.0 687.1 863.6 662.9 864.8 639.1 868.0 564.5 869.6 534.7 870.5 523.4 871.3 517.2 872.3 511.3 872.5 511.0 872.8 512.3 873.3 519.3 873.8 532.0 874.1 542.1 874.7 600.0 875.0 589.9 876.0 520.5 877.8 462.0 878.5 449.4 879.1 442.8 879.3 442.0 879.5 442.0 879.7 439.2 881.2 431.6 881.9 429.2 884.3 422.8 889.8 402.5 890.8 399.3 891.7 397.0 892.5 395.7 893.6 394.2 894.8 393.1 896.0 392.3 897.8 391.7 898.8 391.6 899.8 391.8 900.7 392.2 901.8 393.6 902.9 396.5 904.0 401.4 904.7 406.8 905.1 414.0 905.8 441.5 907.8 542.2 908.2 571.4 908.5 576.8 908.9 572.2 910.8 535.3 911.3 529.4 911.9 526.1 912.4 524.8 912.7 524.3 913.2 524.0 913.5 526.1 913.9 534.6 914.0 535.0 914.1 534.7 914.3 533.2 916.8 469.1 917.9 447.1 919.0 432.0 921.6 403.2 922.4 395.6 923.2 389.5 924.5 383.5 925.3 381.0 926.2 378.9 927.2 377.1 928.3 375.6 929.6 374.5 930.4 374.0 931.2 373.8 932.6 374.0 939.2 378.0 939.9 378.6 941.0 379.8 941.9 381.6 942.4 383.0 943.1 385.6 943.7 388.9 944.7 398.7 946.2 418.6 947.2 441.6 947.8 460.6 948.4 492.8 949.2 569.0 949.4 579.2 949.7 583.0 950.0 579.9 950.5 565.4 954.0 429.0 955.2 391.6 955.5 385.1 956.0 379.8 956.5 376.2 957.3 373.1 958.1 371.0 959.1 369.5 961.6 366.3 963.5 364.2 965.5 362.4 967.1 361.2 968.0 360.8 969.8 360.2 973.4 359.5 976.4 359.7 985.6 360.8 995.6 362.7 998.0 363.0 1001.5 362.8 1004.2 362.3 1005.4 361.8 1006.5 361.2 1007.4 360.3 1008.3 358.4 1008.8 355.6 1009.4 347.4 1009.6 346.6 1009.8 347.5 1010.2 356.1 1010.6 358.8 1011.4 360.3 1012.1 360.6 1012.9 360.6 1016.5 359.7"/>
</g>
<g stroke="#000" stroke-width="1.6">
<line x1="634.6" y1="38" x2="634.6" y2="417"/>
<line x1="662.0" y1="38" x2="662.0" y2="417"/>
</g>
<rect x="37.5" y="458" width="605.8" height="286.4" fill="#fff" stroke="#000" stroke-width="1.6"/>
<g font-size="31"><text x="47.8" y="505.8" textLength="331.5" xml:space="preserve">a) HOOC-PEG3500-OH</text><text x="47.8" y="551.6" textLength="369.5" xml:space="preserve">b) Propargyl-PEG3500-OH</text><text x="47.8" y="597.3" textLength="583.1" xml:space="preserve">c) Propargyl-PEG3500-tert-butyl carbazate</text><text x="47.8" y="643.1" textLength="458.7" xml:space="preserve">d) Propargyl-PEG3500-Hydrazide</text><text x="47.8" y="688.8" textLength="365.4" xml:space="preserve">e) Propargyl-PEG3500-SH</text><text x="47.8" y="734.6" textLength="415.6" xml:space="preserve"> f) Propargyl-PEG3500-COOH</text></g>
<g stroke="#000" stroke-width="3" stroke-linecap="round">
<line x1="37.4" y1="748.6" x2="1017.5" y2="748.6"/>
<line x1="37.4" y1="750" x2="37.4" y2="764.5"/><line x1="209.0" y1="750" x2="209.0" y2="764.5"/><line x1="380.6" y1="750" x2="380.6" y2="764.5"/><line x1="552.2" y1="750" x2="552.2" y2="764.5"/><line x1="723.8" y1="750" x2="723.8" y2="764.5"/><line x1="895.4" y1="750" x2="895.4" y2="764.5"/><line x1="123.2" y1="750" x2="123.2" y2="756.5"/><line x1="294.8" y1="750" x2="294.8" y2="756.5"/><line x1="466.4" y1="750" x2="466.4" y2="756.5"/><line x1="638.0" y1="750" x2="638.0" y2="756.5"/><line x1="809.6" y1="750" x2="809.6" y2="756.5"/><line x1="981.2" y1="750" x2="981.2" y2="756.5"/>
</g>
<g font-size="37.3" font-weight="bold"><text x="37.4" y="798.6" text-anchor="middle" textLength="75.4" lengthAdjust="spacingAndGlyphs">3500</text><text x="209.0" y="798.6" text-anchor="middle" textLength="75.4" lengthAdjust="spacingAndGlyphs">3000</text><text x="380.6" y="798.6" text-anchor="middle" textLength="75.4" lengthAdjust="spacingAndGlyphs">2500</text><text x="552.2" y="798.6" text-anchor="middle" textLength="75.4" lengthAdjust="spacingAndGlyphs">2000</text><text x="723.8" y="798.6" text-anchor="middle" textLength="75.4" lengthAdjust="spacingAndGlyphs">1500</text><text x="895.4" y="798.6" text-anchor="middle" textLength="75.4" lengthAdjust="spacingAndGlyphs">1000</text></g>
<text x="363" y="862.3" font-size="37" textLength="329.8">Wave length (cm-1)</text>
<g font-size="32">
<text x="574.8" y="28" textLength="68.6">1760</text>
<text x="650.1" y="28" textLength="68.6">1680</text>
<text x="455" y="412.6">2130</text>
</g>
<g font-size="39">
<text x="76" y="46.7">a</text>
<text x="79.5" y="115.6">b</text>
<text x="77.3" y="178.4">c</text>
<text x="78.6" y="235.6">d</text>
<text x="81.2" y="298.5">e</text>
<text x="88.6" y="357.5">f</text>
</g>
</svg>
</body></html>
